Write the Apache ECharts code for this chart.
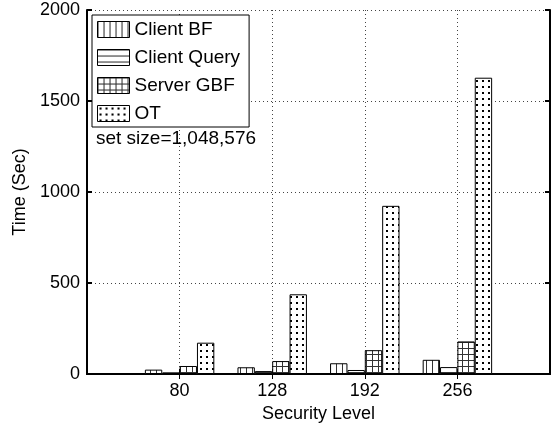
<!DOCTYPE html>
<html><head><meta charset="utf-8">
<script src="https://cdn.jsdelivr.net/npm/echarts@6/dist/echarts.min.js"></script>
<style>html,body{margin:0;padding:0;background:#fff}#c{width:553px;height:433px}</style>
</head><body><div id="c"></div>
<script>
const categories = ['', '80', '128', '192', '256', ''];
const seriesNames = ['Client BF', 'Client Query', 'Server GBF', 'OT'];
const clientBF = ['-', 24, 37, 59, 78, '-'];
const clientQuery = ['-', 9, 16, 22, 38, '-'];
const serverGBF = ['-', 44, 71, 131, 179, '-'];
const ot = ['-', 172, 438, 924, 1628, '-'];
const yTicks = { min: 0, max: 2000, interval: 500 };
const annotation = 'set size=1,048,576';

function makePattern(kind) {
  const c = document.createElement('canvas');
  const w = 6, h = 6;
  c.width = w; c.height = h;
  const g = c.getContext('2d');
  g.fillStyle = '#fff'; g.fillRect(0, 0, w, h);
  g.fillStyle = '#333';
  if (kind === 'v') { g.fillRect(0, 0, 1, h); }
  else if (kind === 'h') { g.fillRect(0, 0, w, 1); }
  else if (kind === 'grid') { g.fillRect(0, 0, 1, h); g.fillRect(0, 0, w, 1); }
  else if (kind === 'dot') { g.fillStyle = '#000'; g.fillRect(2, 2, 2, 2); }
  return { image: c, repeat: 'repeat' };
}
const patterns = [makePattern('v'), makePattern('h'), makePattern('grid'), makePattern('dot')];
const values = [clientBF, clientQuery, serverGBF, ot];

const font = 'Liberation Sans, Arial, sans-serif';
const showIdx = (i) => i >= 1 && i <= 4;

const chart = echarts.init(document.getElementById('c'));
chart.setOption({
  animation: false,
  backgroundColor: '#fff',
  grid: { left: 87, right: 2, top: 10, bottom: 59, containLabel: false },
  legend: {
    orient: 'vertical', left: 92, top: 15,
    data: seriesNames,
    icon: 'rect', itemWidth: 32, itemHeight: 16, itemGap: 9,
    padding: [5, 9, 4, 5],
    borderColor: '#000', borderWidth: 1, backgroundColor: '#fff',
    textStyle: { fontFamily: font, fontSize: 19, color: '#000' },
    itemStyle: { borderColor: '#000', borderWidth: 1 }
  },
  graphic: [{ type: 'text', left: 96, top: 129, z: 100,
    style: { text: annotation, font: '19px ' + font, fill: '#000' } }],
  xAxis: [{
    type: 'category', data: categories, boundaryGap: false,
    name: 'Security Level', nameLocation: 'middle', nameGap: 31,
    nameTextStyle: { fontFamily: font, fontSize: 18, color: '#000' },
    axisLine: { lineStyle: { color: '#000', width: 2 } },
    axisTick: { inside: true, length: 5, interval: (i) => showIdx(i), lineStyle: { color: '#000', width: 1 } },
    axisLabel: { fontFamily: font, fontSize: 18, color: '#000', margin: 8, interval: 0 },
    splitLine: { show: true, interval: (i) => showIdx(i), lineStyle: { color: '#444', type: [1, 3], width: 1 } }
  }, {
    type: 'category', data: categories, boundaryGap: false, position: 'top',
    axisLine: { lineStyle: { color: '#000', width: 2 } },
    axisTick: { inside: true, length: 5, interval: (i) => showIdx(i), lineStyle: { color: '#000', width: 1 } },
    axisLabel: { show: false }, splitLine: { show: false }
  }],
  yAxis: [{
    type: 'value', min: yTicks.min, max: yTicks.max, interval: yTicks.interval,
    name: 'Time (Sec)', nameLocation: 'middle', nameGap: 46,
    nameTextStyle: { fontFamily: font, fontSize: 18, color: '#000' },
    axisLine: { show: true, lineStyle: { color: '#000', width: 2 } },
    axisTick: { show: true, inside: true, length: 5, lineStyle: { color: '#000', width: 2 } },
    axisLabel: { fontFamily: font, fontSize: 18, color: '#000', margin: 7, formatter: (v) => String(v) },
    splitLine: { show: true, lineStyle: { color: '#444', type: [1, 3], width: 1 } }
  }, {
    type: 'value', min: yTicks.min, max: yTicks.max, interval: yTicks.interval, position: 'right',
    axisLine: { show: true, lineStyle: { color: '#000', width: 2 } },
    axisTick: { show: true, inside: true, length: 5, lineStyle: { color: '#000', width: 2 } },
    axisLabel: { show: false }, splitLine: { show: false }
  }],
  series: seriesNames.map((n, k) => ({
    name: n, type: 'bar', data: values[k],
    barGap: '0%', barCategoryGap: '25%',
    itemStyle: { color: patterns[k], borderColor: '#000', borderWidth: 1 },
    emphasis: { disabled: true }
  }))
});
</script></body></html>
